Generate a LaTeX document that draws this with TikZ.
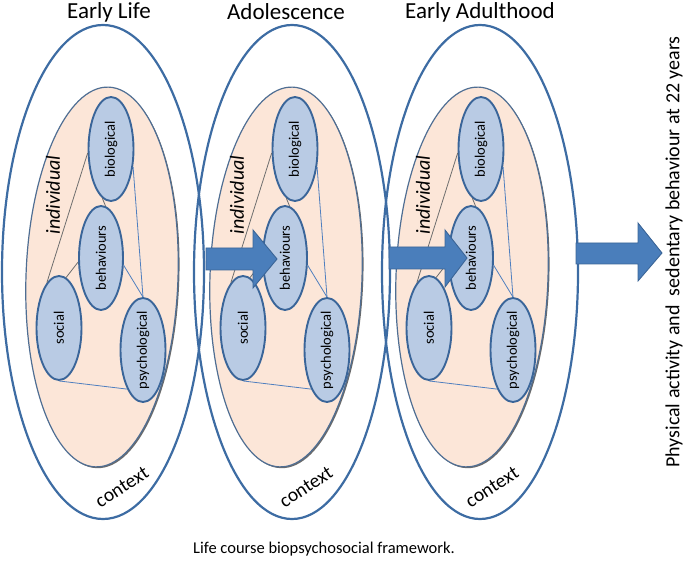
\documentclass[tikz,border=0pt]{standalone}
\usepackage{fontspec}
\setmainfont{Carlito}
\usetikzlibrary{shapes.geometric,shadows}
\definecolor{outerblue}{HTML}{3D6CA3}
\definecolor{innerline}{HTML}{4F6E93}
\definecolor{ellblue}{HTML}{3A6599}
\definecolor{ellfill}{HTML}{B9CBE4}
\definecolor{peach}{HTML}{FCE6D8}
\definecolor{arrowfill}{HTML}{4A7EBB}
\definecolor{arrowline}{HTML}{3B6597}
\definecolor{linkgray}{HTML}{6E6E6E}
\definecolor{linkblue}{HTML}{4F7FBF}
\definecolor{shadowgray}{HTML}{5A5A5A}
\tikzset{
  outerell/.style={ellipse, draw=outerblue, line width=2.2pt, inner sep=0pt},
  innerell/.style={ellipse, draw=innerline, line width=1.2pt, fill=peach, inner sep=0pt,
    minimum width=152pt, minimum height=380pt,
    drop shadow={shadow xshift=1.3pt, shadow yshift=-1.3pt, fill=shadowgray, opacity=0.9}},
  factor/.style={ellipse, draw=ellblue, line width=1.9pt, fill=ellfill, inner ysep=0pt,
    inner xsep=-6pt, minimum width=104pt, minimum height=45pt, rotate=90,
    font=\fontsize{14.5}{16}\selectfont},
  graylink/.style={draw=linkgray, line width=0.8pt},
  bluelink/.style={draw=linkblue, line width=0.8pt},
  stagetitle/.style={font=\fontsize{23}{26}\selectfont, inner sep=0pt},
  levellabel/.style={font=\fontsize{20}{23}\selectfont\itshape, inner sep=0pt, rotate=90},
  contextlabel/.style={font=\fontsize{19.5}{22}\selectfont, inner sep=0pt, rotate=33},
  blockarrow/.style={fill=arrowfill, draw=arrowline, line width=0.9pt, line join=miter},
}
\begin{document}
\begin{tikzpicture}[x=1pt,y=-1pt]
\useasboundingbox (0,0) rectangle (685,561);
\foreach \i/\dx/\ox/\orx in {1/0/103/202, 2/184/292/196, 3/370/480/196} {
  \node[outerell, minimum width=\orx pt, minimum height=494pt] (outer\i) at (\ox,272) {};
  \node[innerell, rotate=-2] (ind\i) at ({102+\dx},277) {};
  \node[factor] (bio\i) at ({111+\dx},149) {biological};
  \node[factor, minimum height=44pt] (beh\i) at ({101+\dx},258) {behaviours};
  \node[factor] (soc\i) at ({59+\dx},328) {social};
  \node[factor] (psy\i) at ({143+\dx},350) {psychological};
  \draw[graylink] (soc\i.15) -- (bio\i.100);
  \draw[graylink] (soc\i.-8) -- (beh\i.100);
  \draw[graylink] (bio\i.170) -- (beh\i.-5);
  \draw[bluelink] (bio\i.231) -- (psy\i.0);
  \draw[bluelink] (beh\i.252) -- (psy\i.0);
  \draw[bluelink] (soc\i.180) -- (psy\i.158);
  \node[levellabel] (indlab\i) at ({53+\dx},195) {individual};
  \node[contextlabel] (ctx\i) at ({122+\dx},487) {context};
}
\node[stagetitle] (t1) at (109,12) {Early Life};
\node[stagetitle] (t2) at (286,12) {Adolescence};
\node[stagetitle] (t3) at (480,12) {Early Adulthood};
\draw[blockarrow] (206,248) -- (253,248) -- (253,230) -- (277,259) -- (253,288) -- (253,270) -- (206,270) -- cycle;
\draw[blockarrow] (389,247) -- (445,247) -- (445,230) -- (467,258) -- (445,287) -- (445,269) -- (389,269) -- cycle;
\draw[blockarrow] (576,243) -- (638,243) -- (638,223) -- (662,253) -- (638,281) -- (638,264) -- (576,264) -- cycle;
\node[font=\fontsize{20}{23}\selectfont, rotate=90, inner sep=0pt] (outcome) at (674,252)
  {Physical activity and\ \ sedentary behaviour at 22 years};
\node[font=\fontsize{16.5}{19}\selectfont, inner sep=0pt] (caption) at (324,549)
  {Life course biopsychosocial framework.};
\end{tikzpicture}
\end{document}
